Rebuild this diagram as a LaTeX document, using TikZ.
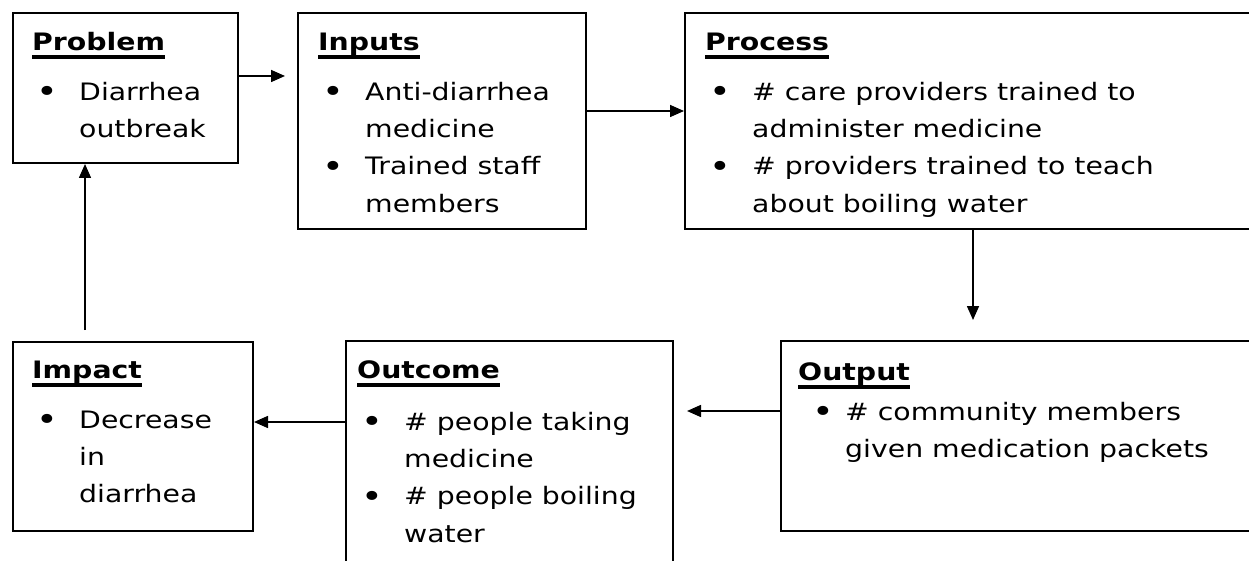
\documentclass[tikz,border=0pt]{standalone}
\usepackage{fontspec}
\setmainfont{DejaVu Sans}[FakeStretch=1.18]
\usetikzlibrary{arrows.meta}
\tikzset{box/.style={draw,line width=2pt,anchor=north west,inner sep=0pt}}
\tikzset{txt/.style={anchor=north west,inner sep=0pt,align=left,font=\fontsize{24}{37.3}\selectfont}}
\tikzset{edge/.style={line width=1.6pt,-{Triangle[length=14pt,width=12pt]}}}
\newcommand\hd[1]{\setbox0\hbox{\bfseries #1}\rlap{\rule[-9pt]{\wd0}{4pt}}\box0\strut}
\newcommand\bitem[2][4pt]{\makebox[47pt][l]{\hspace{#1}\raisebox{-2.5pt}{\scalebox{1.3}{\textbullet}}}#2}
\newcommand\bcont[1]{\hspace*{47pt}#1}

\begin{document}
\begin{tikzpicture}[x=1pt,y=-1pt]
    \useasboundingbox (0,0) rectangle (1249,561);
    \node[box,minimum width=225pt,minimum height=150pt] (prob) at (12,12) {};
    \node[box,minimum width=288pt,minimum height=216pt] (inp) at (297,12) {};
    \node[box,minimum width=580pt,minimum height=216pt] (proc) at (684,12) {};
    \node[box,minimum width=485pt,minimum height=190pt] (outp) at (780,340) {};
    \node[box,minimum width=327pt,minimum height=260pt] (outc) at (345,340) {};
    \node[box,minimum width=240pt,minimum height=189pt] (imp) at (12,341) {};
    \node[txt] (probt) at ([xshift=20pt,yshift=-11.9pt]prob.north west)
      {\hd{Problem}\\[12.7pt]\bitem{Diarrhea}\\\bcont{outbreak}};
    \node[txt] (inpt) at ([xshift=21pt,yshift=-11.9pt]inp.north west)
      {\hd{Inputs}\\[12.7pt]\bitem{Anti-diarrhea}\\\bcont{medicine}\\\bitem{Trained staff}\\\bcont{members}};
    \node[txt] (proct) at ([xshift=21pt,yshift=-11.9pt]proc.north west)
      {\hd{Process}\\[12.7pt]\bitem{\# care providers trained to}\\\bcont{administer medicine}\\
       \bitem{\# providers trained to teach}\\\bcont{about boiling water}};
    \node[txt] (outpt) at ([xshift=18pt,yshift=-13.9pt]outp.north west)
      {\hd{Output}\\[2.7pt]\bitem[14pt]{\# community members}\\\bcont{given medication packets}};
    \node[txt] (outct) at ([xshift=12pt,yshift=-11.9pt]outc.north west)
      {\hd{Outcome}\\[14.7pt]\bitem{\# people taking}\\\bcont{medicine}\\\bitem{\# people boiling}\\\bcont{water}};
    \node[txt] (impt) at ([xshift=20pt,yshift=-10.9pt]imp.north west)
      {\hd{Impact}\\[12.7pt]\bitem{Decrease}\\\bcont{in}\\\bcont{diarrhea}};
    \draw[edge,shorten >=12pt] ([yshift=12pt]prob.east) -- ([yshift=12pt]prob.east -| inp.west);
    \draw[edge] ([yshift=10pt]inp.east) -- ([yshift=10pt]inp.east -| proc.west);
    \draw[edge,shorten >=20pt] ([xshift=289pt]proc.south west) -- ([xshift=289pt]proc.south west |- outp.north);
    \draw[edge,shorten >=13pt] ([yshift=25pt]outp.west) -- ([yshift=25pt]outp.west -| outc.east);
    \draw[edge] ([yshift=14.5pt]imp.east -| outc.west) -- ([yshift=14.5pt]imp.east);
    \draw[edge,shorten <=11pt] ([xshift=-48pt]imp.north) -- ([xshift=-48pt]imp.north |- prob.south);
\end{tikzpicture}
\end{document}
